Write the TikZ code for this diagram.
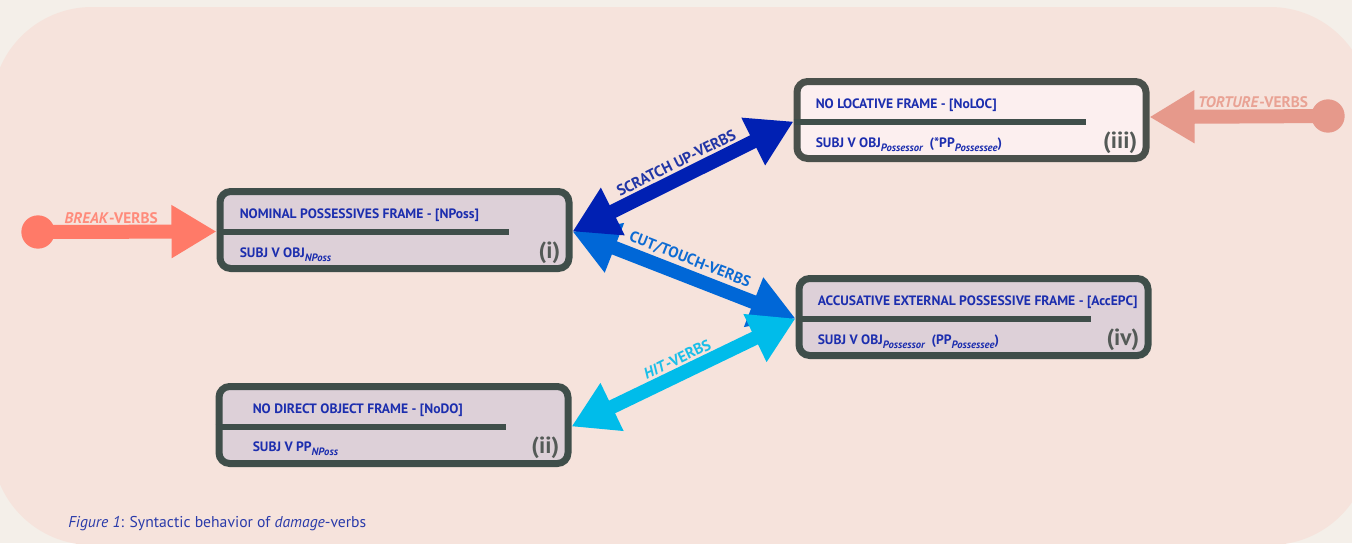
\documentclass[tikz,border=0pt]{standalone}
\usepackage{fontspec}
\setmainfont{PT Sans}
\usetikzlibrary{arrows.meta,calc}

\definecolor{bgout}{HTML}{F4EFE9}
\definecolor{bgin}{HTML}{F6E3DC}
\definecolor{frameline}{HTML}{3F4E4A}
\definecolor{frametop}{HTML}{4A504B}
\definecolor{boxfill}{HTML}{DDD0D8}
\definecolor{boxlight}{HTML}{FCEFEF}
\definecolor{txtblue}{HTML}{1C2EAE}
\definecolor{numgrey}{HTML}{545A57}
\definecolor{breakc}{HTML}{FF7A68}
\definecolor{breaklbl}{HTML}{FF8B7B}
\definecolor{torturec}{HTML}{E6998B}
\definecolor{torturelbl}{HTML}{E9A294}
\definecolor{scratchc}{HTML}{0020B3}
\definecolor{scratchlbl}{HTML}{2236A6}
\definecolor{cutc}{HTML}{0067D7}
\definecolor{cutlbl}{HTML}{0D6BD3}
\definecolor{hitc}{HTML}{00BCEA}
\definecolor{hitlbl}{HTML}{1ABFE9}
\definecolor{captxt}{HTML}{2A3BAA}

% lowered italic index after a category label
\newcommand\lowsub[1]{\raisebox{-3pt}{\fontsize{8}{9}\selectfont\itshape #1}}

\tikzset{
  bigtip/.tip={Triangle[length=33.75pt,width=37.5pt]},
  frame/.style={draw=frameline, line width=5.25pt, rounded corners=8pt,
    fill=boxfill, minimum width=261.75pt, minimum height=57.75pt, inner sep=0pt},
  divider/.style={draw=frameline, line width=4.5pt},
  headline/.style={anchor=base west, inner sep=0pt, text=txtblue,
    font=\bfseries\fontsize{10.2}{12}\selectfont},
  numeral/.style={anchor=base east, inner sep=0pt, text=numgrey,
    font=\bfseries\fontsize{17.5}{20}\selectfont},
  link/.style={line width=10.5pt},
  linklabel/.style={inner sep=0pt, font=\bfseries\fontsize{11.5}{13}\selectfont},
  knob/.style={circle, inner sep=0pt, minimum size=25pt},
}

\begin{document}
\begin{tikzpicture}[x=0.75pt,y=-0.75pt]
\useasboundingbox (0,0) rectangle (1352,543);
\fill[bgout] (0,0) rectangle (1352,543);
\fill[bgin, rounded corners=75pt] (-8,7) rectangle (1370,545);

% (i) nominal possessives
\node[frame] (i) at (394.5,230) {};
\coordinate (i-div) at ($(i.north west)+(0,43.5)$);
\draw[divider] (i-div) -- ++(292,0);
\node[headline] (i-head) at ($(i.north west)+(23,30)$) {NOMINAL POSSESSIVES FRAME - [NPoss]};
\node[headline] (i-form) at ($(i.north west)+(23,69)$) {SUBJ V OBJ\lowsub{NPoss}};
\node[numeral] (i-num) at ($(i.north east)+(-12,70)$) {(i)};

% (iii) no locative
\node[frame, draw=frametop, fill=boxlight] (iii) at (971.5,120) {};
\coordinate (iii-div) at ($(iii.north west)+(0,43.5)$);
\draw[divider] (iii-div) -- ++(292,0);
\node[headline] (iii-head) at ($(iii.north west)+(22,30)$) {NO LOCATIVE FRAME - [NoLOC]};
\node[headline] (iii-form) at ($(iii.north west)+(22,69)$) {SUBJ V OBJ\lowsub{Possessor}\ \ (*PP\lowsub{Possessee})};
\node[numeral] (iii-num) at ($(iii.north east)+(-12,70)$) {(iii)};

% (iv) accusative external possessive
\node[frame] (iv) at (973.5,317) {};
\coordinate (iv-div) at ($(iv.north west)+(0,43.5)$);
\draw[divider] (iv-div) -- ++(295,0);
\node[headline] (iv-head) at ($(iv.north west)+(22,30)$) {ACCUSATIVE EXTERNAL POSSESSIVE FRAME - [AccEPC]};
\node[headline] (iv-form) at ($(iv.north west)+(22,69)$) {SUBJ V OBJ\lowsub{Possessor}\ \ (PP\lowsub{Possessee})};
\node[numeral] (iv-num) at ($(iv.north east)+(-12,70)$) {(iv)};

% (ii) no direct object
\node[frame] (ii) at (393.5,425) {};
\coordinate (ii-div) at ($(ii.north west)+(0,43.5)$);
\draw[divider] (ii-div) -- ++(290,0);
\node[headline] (ii-head) at ($(ii.north west)+(37,30)$) {NO DIRECT OBJECT FRAME - [NoDO]};
\node[headline] (ii-form) at ($(ii.north west)+(37,68)$) {SUBJ V PP\lowsub{NPoss}};
\node[numeral] (ii-num) at ($(ii.north east)+(-12,70)$) {(ii)};

% tip points on the frames
\coordinate (i-r) at (i.east |- i-div);
\coordinate (i-l) at (i.west |- i-div);
\coordinate (iii-l) at (iii.west |- iii-div);
\coordinate (iii-r) at ($(iii.east)+(0,-3)$);
\coordinate (iv-l) at (iv.west |- iv-div);
\coordinate (ii-r) at (ii.east |- ii-div);

% double-headed links between frames
\draw[link, cutc, bigtip-bigtip] (i-r) -- node[linklabel, sloped, above=2pt, text=cutlbl] (cut-lbl) {CUT/TOUCH-VERBS} (iv-l);
\draw[link, hitc, bigtip-bigtip] (ii-r) -- node[linklabel, sloped, above=1.5pt, text=hitlbl] (hit-lbl) {\textit{HIT}-VERBS} (iv-l);
\draw[link, scratchc, bigtip-bigtip] (i-r) -- node[linklabel, sloped, above=2pt, text=scratchlbl] (scr-lbl) {SCRATCH UP-VERBS} (iii-l);

% entry arrows
\node[knob, fill=breakc] (brk) at (38,232) {};
\draw[link, breakc, -bigtip] (brk.center) -- node[linklabel, pos=0.41, above=1pt, text=breaklbl] (brk-lbl) {\textit{BREAK}-VERBS} (i-l);
\node[knob, fill=torturec] (trt) at (1328,116) {};
\draw[link, torturec, -bigtip] (trt.center) -- node[linklabel, pos=0.42, above=1.5pt, text=torturelbl] (trt-lbl) {\textit{TORTURE}-VERBS} (iii-r);

% caption
\node[anchor=base west, inner sep=0pt, text=captxt, font=\fontsize{11.75}{14}\selectfont] (caption) at (68,527)
  {\textit{Figure 1}: Syntactic behavior of \textit{damage}-verbs};
\end{tikzpicture}
\end{document}
